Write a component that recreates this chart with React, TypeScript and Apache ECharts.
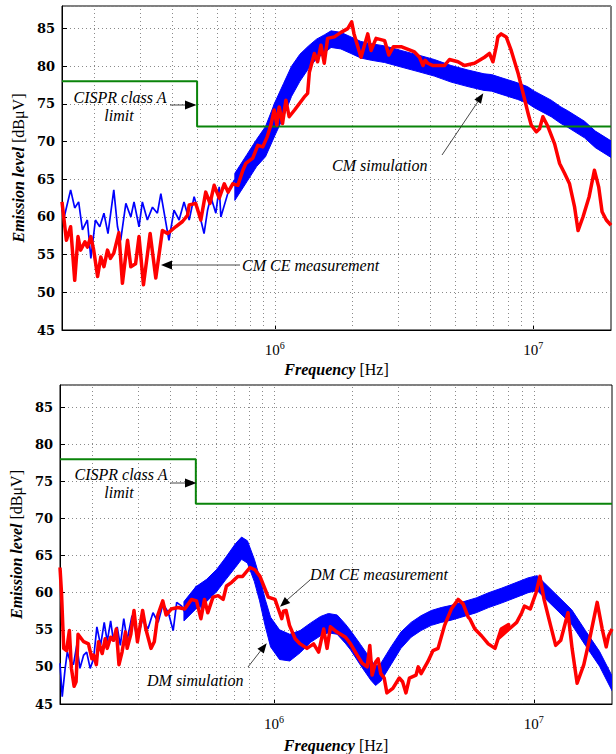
import React, { useEffect, useRef } from "react";
import * as echarts from "echarts";

// ---------- shared ----------
const gridFreqKHz = [200, 300, 400, 500, 600, 700, 800, 900, 1000, 2000, 3000, 4000, 5000, 6000, 7000, 8000, 9000, 10000];
const limitFreqKHz = [150, 500, 500, 20000];
const limitLevel = [78, 78, 72, 72];
const xTickLabels = ["10^6", "10^7"];

// ---------- top panel (CM) ----------
const cmMeasFreqKHz = [150, 156, 162, 168, 173, 177, 184, 188, 194, 199, 206, 212, 218, 225, 231, 238, 249, 257, 269, 277, 289, 298, 310, 329, 346, 367, 384, 413, 439, 459, 466, 494, 517, 540, 561, 582, 609, 637, 659, 687, 719, 752, 772, 821, 859, 898, 933, 965, 994, 1018, 1039, 1071, 1103, 1136, 1192, 1298, 1339, 1360, 1422, 1464, 1508, 1553, 1600, 1699, 1803, 1914, 1983, 2025, 2155, 2288, 2356, 2464, 2661, 2761, 2876, 3080, 3471, 3631, 3744, 3815, 3909, 4093, 4532, 4740, 5111, 5418, 5924, 6478, 6772, 6982, 7190, 7300, 7516, 7859, 8218, 8750, 9140, 9560, 9823, 10270, 10580, 10900, 11400, 12100, 12650, 13220, 13820, 14460, 14910, 15580, 16460, 17250, 17920, 18470, 19180, 20000];
const cmMeasLevel = [62.0, 56.9, 58.7, 51.6, 57.4, 55.6, 56.7, 56.0, 57.4, 55.6, 52.1, 54.7, 53.4, 55.6, 54.5, 55.2, 57.9, 51.2, 56.9, 53.4, 53.8, 57.4, 51.0, 57.8, 51.9, 58.2, 57.8, 58.7, 59.4, 60.2, 61.6, 61.8, 59.6, 63.3, 61.8, 64.2, 62.5, 64.4, 63.3, 64.4, 64.2, 66.2, 67.1, 67.8, 69.5, 69.3, 70.6, 72.2, 74.2, 72.2, 74.6, 72.4, 75.5, 73.3, 74.2, 75.9, 76.4, 79.2, 81.7, 80.6, 82.8, 80.4, 83.7, 83.9, 84.5, 85.0, 85.9, 84.3, 81.2, 84.3, 82.1, 83.7, 83.4, 81.5, 82.6, 82.6, 81.9, 81.2, 80.1, 80.8, 80.4, 80.1, 80.1, 80.9, 80.6, 80.1, 80.4, 81.2, 81.7, 80.6, 82.6, 83.9, 84.3, 83.9, 82.1, 79.0, 76.4, 73.7, 72.2, 71.3, 71.7, 73.3, 72.0, 69.7, 67.1, 65.8, 64.4, 61.3, 58.2, 60.0, 62.7, 66.2, 64.0, 60.7, 59.6, 58.9];

const cmSimFreqKHz = [150, 153, 162, 168, 174, 180, 188, 194, 202, 210, 218, 226, 238, 246, 253, 265, 277, 285, 298, 307, 321, 336, 351, 362, 373, 389, 407, 426, 445, 466, 487, 517, 532, 549, 565, 591, 609, 618, 657, 697, 739, 784, 832, 870, 923, 965, 1000, 1055, 1120, 1188, 1261, 1358];
const cmSimLevel = [61.0, 60.0, 63.6, 61.2, 62.0, 58.3, 59.6, 54.5, 59.6, 58.7, 60.5, 57.8, 63.6, 58.7, 56.9, 61.8, 60.0, 62.0, 58.7, 62.0, 59.6, 61.3, 60.5, 63.1, 60.5, 56.9, 60.9, 59.6, 62.0, 59.6, 62.7, 59.6, 57.8, 60.9, 62.7, 60.5, 64.0, 60.0, 63.1, 64.9, 64.0, 67.5, 68.4, 70.2, 69.3, 72.8, 75.1, 75.5, 78.1, 80.4, 79.9, 80.4];

const cmBandFreqKHz = [700, 780, 850, 920, 1000, 1080, 1160, 1250, 1350, 1450, 1560, 1650, 1800, 1970, 2150, 2360, 2660, 3080, 3580, 4140, 4810, 5590, 6450, 6900, 7500, 8700, 9500, 10100, 11740, 12800, 13600, 15800, 17400, 20000];
const cmBandLow = [62.2, 64.7, 66.7, 68.0, 70.8, 73.3, 76.0, 78.0, 79.7, 81.0, 81.8, 82.5, 82.3, 81.7, 81.1, 80.8, 80.5, 79.9, 79.3, 78.7, 77.9, 77.3, 76.8, 76.7, 76.3, 75.6, 75.1, 74.5, 73.3, 72.4, 71.9, 70.5, 69.2, 67.9];
const cmBandHigh = [65.8, 68.3, 70.3, 72.0, 75.2, 77.7, 80.0, 81.6, 82.7, 83.6, 84.2, 84.7, 84.5, 83.9, 83.3, 83.0, 82.7, 82.1, 81.5, 80.9, 80.1, 79.5, 79.0, 78.9, 78.5, 77.8, 77.3, 76.7, 75.5, 74.6, 74.1, 72.7, 71.4, 70.1];

// ---------- bottom panel (DM) ----------
const dmMeasFreqKHz = [150, 152, 155, 159, 163, 166, 170, 173, 176, 185, 193, 199, 202, 207, 211, 218, 224, 228, 235, 241, 247, 253, 260, 268, 272, 281, 289, 298, 312, 321, 336, 346, 357, 373, 384, 402, 427, 453, 481, 503, 523, 540, 556, 582, 609, 637, 656, 687, 725, 757, 808, 844, 883, 923, 950, 1009, 1039, 1071, 1087, 1113, 1147, 1206, 1261, 1339, 1420, 1485, 1553, 1600, 1649, 1747, 1885, 1971, 2089, 2183, 2283, 2337, 2386, 2464, 2515, 2576, 2655, 2719, 2866, 3035, 3125, 3220, 3320, 3521, 3590, 3682, 3909, 4093, 4280, 4535, 4812, 5112, 5345, 5590, 5670, 5930, 6289, 6680, 7090, 7490, 8000, 7290, 8593, 8985, 9200, 9690, 10200, 10560, 10950, 11600, 12140, 12700, 13540, 14040, 14680, 15580, 16500, 17540, 18340, 19000, 19400, 20000];
const dmMeasLevel = [63.4, 60.0, 52.5, 52.2, 54.9, 49.8, 47.4, 48.0, 54.4, 53.4, 53.1, 51.1, 51.6, 50.3, 53.4, 51.8, 53.8, 52.5, 54.0, 53.6, 55.1, 50.3, 52.0, 54.7, 52.5, 54.4, 57.6, 53.4, 57.6, 55.1, 52.5, 53.4, 57.0, 58.9, 57.0, 57.8, 58.0, 57.8, 59.1, 58.9, 56.5, 59.1, 57.3, 59.4, 59.6, 59.1, 60.9, 61.4, 62.2, 62.2, 63.4, 63.1, 62.2, 60.5, 59.4, 59.1, 57.8, 56.5, 57.5, 57.6, 55.6, 53.8, 53.1, 52.5, 53.1, 52.0, 55.1, 52.5, 55.4, 54.7, 54.0, 53.1, 51.6, 50.5, 50.0, 52.9, 48.9, 50.7, 51.1, 49.1, 48.5, 46.5, 47.1, 48.5, 48.0, 46.5, 48.5, 48.9, 50.0, 49.1, 50.7, 52.2, 52.5, 55.6, 57.8, 59.1, 58.5, 56.7, 56.5, 55.1, 54.2, 53.1, 52.5, 55.1, 55.7, 53.8, 56.0, 57.3, 58.2, 57.8, 60.0, 62.2, 59.1, 55.6, 52.9, 53.6, 57.3, 52.5, 47.8, 50.3, 54.2, 58.7, 55.1, 52.7, 54.2, 55.1];

const dmSimFreqKHz = [150, 153, 157, 160, 164, 169, 174, 179, 185, 190, 196, 202, 208, 215, 222, 228, 235, 241, 249, 256, 264, 272, 284, 298, 312, 327, 342, 358, 374, 392, 409, 422, 441, 461, 482, 503, 526, 550];
const dmSimLevel = [50.5, 46.0, 49.8, 52.0, 50.8, 50.3, 52.9, 49.8, 51.6, 52.0, 49.8, 51.1, 55.4, 52.9, 56.0, 53.4, 56.2, 53.4, 55.4, 52.9, 56.5, 53.6, 56.9, 53.8, 56.5, 55.1, 57.3, 56.0, 58.5, 57.3, 54.9, 58.7, 58.2, 56.9, 59.6, 60.9, 57.8, 61.4];

const dmBandFreqKHz = [450, 500, 550, 600, 650, 710, 750, 790, 840, 880, 925, 970, 1050, 1150, 1260, 1380, 1510, 1620, 1750, 1880, 1970, 2155, 2360, 2460, 2580, 2820, 3080, 3370, 3680, 4030, 4400, 4810, 5260, 6000, 6700, 7500, 8450, 9500, 10300, 11000, 12500, 14000, 15800, 17900, 20000];
const dmBandLow = [56.2, 57.8, 58.8, 60.1, 61.7, 63.4, 64.5, 64.0, 61.5, 58.9, 55.5, 52.7, 51.0, 50.8, 51.9, 53.3, 54.2, 54.6, 54.4, 53.2, 52.3, 50.2, 48.2, 47.5, 48.1, 50.3, 52.5, 54.0, 54.9, 55.6, 56.0, 56.3, 56.7, 57.3, 58.0, 58.6, 59.3, 60.0, 60.3, 59.3, 57.4, 55.7, 52.9, 50.1, 46.8];
const dmBandHigh = [58.8, 60.8, 61.8, 63.1, 64.7, 66.6, 67.5, 67.0, 64.5, 62.1, 59.1, 56.7, 55.0, 54.4, 54.9, 55.9, 56.8, 57.2, 57.0, 55.8, 54.9, 53.0, 51.0, 50.1, 50.5, 52.7, 54.7, 56.0, 56.9, 57.6, 58.0, 58.3, 58.7, 59.3, 60.0, 60.6, 61.3, 62.0, 62.3, 61.3, 59.4, 57.7, 54.9, 52.1, 48.8];

// ---------- styles ----------
const SERIF = '"Liberation Serif", "Times New Roman", serif';
const BLUE = "#0000ff";
const RED = "#ff0000";
const GREEN = "#0a840a";
const GRIDC = "#8a8a8a";

const pairs = (fs: number[], vs: number[]) => fs.map((f, i) => [f * 1000, vs[i]]);

function panelSeries(idx: number, meas: any, sim: any, band: any) {
  const ax = { xAxisIndex: idx, yAxisIndex: idx };
  const common = { type: "line", symbol: "none", showSymbol: false, silent: true, animation: false, ...ax };
  return [
    {
      ...common,
      name: "grid" + idx,
      data: [],
      z: 1,
      markLine: {
        silent: true,
        symbol: "none",
        animation: false,
        z: 1,
        label: { show: false },
        lineStyle: { color: GRIDC, type: [1, 3], width: 1 },
        data: gridFreqKHz.map((f) => ({ xAxis: f * 1000 })),
      },
    },
    {
      type: "custom",
      name: (idx === 0 ? "CM" : "DM") + " simulation band",
      ...ax,
      silent: true,
      animation: false,
      clip: true,
      z: 2,
      data: [[band.f[0] * 1000, band.lo[0]]],
      renderItem: (_params: any, api: any) => {
        const upper = band.f.map((f: number, i: number) => api.coord([f * 1000, band.hi[i]]));
        const lower = band.f.map((f: number, i: number) => api.coord([f * 1000, band.lo[i]])).reverse();
        return {
          type: "polygon",
          shape: { points: upper.concat(lower) },
          style: { fill: BLUE, stroke: BLUE, lineWidth: 1 },
        };
      },
    },
    {
      ...common,
      name: idx === 0 ? "CM simulation" : "DM simulation",
      data: pairs(sim.f, sim.v),
      lineStyle: { width: 1.7, color: BLUE },
      z: 3,
    },
    {
      ...common,
      name: "CISPR class A limit " + idx,
      data: pairs(limitFreqKHz, limitLevel),
      lineStyle: { width: 2, color: GREEN },
      z: 4,
    },
    {
      ...common,
      name: idx === 0 ? "CM CE measurement" : "DM CE measurement",
      data: pairs(meas.f, meas.v),
      lineStyle: { width: 3.5, color: RED, join: "round" },
      z: 5,
    },
  ];
}

function xAxisDef(idx: number) {
  return {
    type: "log",
    logBase: 10,
    gridIndex: idx,
    min: 150000,
    max: 20000000,
    axisLine: { show: true, lineStyle: { color: "#000", width: 1 } },
    axisTick: { show: true, inside: true, length: 5, lineStyle: { color: "#000" } },
    splitLine: { show: false },
    axisLabel: {
      showMinLabel: false,
      showMaxLabel: false,
      margin: 10,
      color: "#000",
      formatter: (v: number) => {
        const e = Math.round(Math.log10(v));
        const lbl = xTickLabels.find((t) => t === "10^" + e);
        return lbl ? "{b|10}{s|" + e + "}" : "";
      },
      rich: {
        b: { fontFamily: SERIF, fontSize: 15, color: "#000" },
        s: { fontFamily: SERIF, fontSize: 10, color: "#000", padding: [0, 0, 9, 0] },
      },
    },
    name: "{a|Frequency}{b| [Hz]}",
    nameLocation: "middle",
    nameGap: idx === 0 ? 31 : 33,
    nameTextStyle: {
      rich: {
        a: { fontFamily: SERIF, fontSize: 16, fontStyle: "italic", fontWeight: "bold", color: "#000" },
        b: { fontFamily: SERIF, fontSize: 16, color: "#000" },
      },
    },
  };
}

function yAxisDef(idx: number) {
  return {
    type: "value",
    gridIndex: idx,
    min: 45,
    max: 88,
    interval: 5,
    axisLine: { show: true, lineStyle: { color: "#000", width: 1 } },
    axisTick: { show: true, inside: true, length: 5, lineStyle: { color: "#000" } },
    splitLine: { show: true, lineStyle: { color: GRIDC, type: [1, 3], width: 1 } },
    axisLabel: {
      showMaxLabel: false,
      margin: 7,
      color: "#000",
      fontFamily: "DejaVu Serif",
      fontWeight: "bold",
      fontSize: 13,
    },
    name: "{a|Emission level}{b| [dBμV]}",
    nameLocation: "middle",
    nameGap: 32,
    nameRotate: 90,
    nameTextStyle: {
      rich: {
        a: { fontFamily: SERIF, fontSize: 16, fontStyle: "italic", fontWeight: "bold", color: "#000" },
        b: { fontFamily: SERIF, fontSize: 16, color: "#000" },
      },
    },
  };
}

function txt(text: string, x: number, y: number, align: string) {
  return {
    type: "text",
    x,
    y,
    z: 100,
    silent: true,
    style: { text, font: 'italic 16px "Liberation Serif"', fill: "#000", align, verticalAlign: "middle" },
  };
}
function seg(x1: number, y1: number, x2: number, y2: number) {
  return { type: "line", z: 100, silent: true, shape: { x1, y1, x2, y2 }, style: { stroke: "#333", lineWidth: 0.9 } };
}
function head(pts: number[][]) {
  return { type: "polygon", z: 100, silent: true, shape: { points: pts }, style: { fill: "#000" } };
}

const graphics = [
  // top panel
  txt("CISPR class A", 120, 97, "center"),
  txt("limit", 119, 115, "center"),
  seg(170, 105, 186, 105),
  head([[196.5, 105], [185, 100.5], [185, 109.5]]),
  txt("CM CE measurement", 242, 265, "left"),
  seg(171, 265, 240, 265),
  head([[161, 265], [172, 260.5], [172, 269.5]]),
  txt("CM simulation", 332, 165, "left"),
  seg(442, 155, 478, 101.5),
  head([[483.3, 93.3], [481.0, 103.8], [474.4, 99.4]]),
  // bottom panel
  txt("CISPR class A", 121, 474, "center"),
  txt("limit", 119, 492.5, "center"),
  seg(170, 483, 186, 483),
  head([[196.5, 483], [185, 478.5], [185, 487.5]]),
  txt("DM simulation", 147, 680, "left"),
  seg(248, 667, 262, 649),
  head([[266.7, 643.3], [263.8, 653.6], [257.4, 648.8]]),
  txt("DM CE measurement", 310, 574, "left"),
  seg(310, 580, 287, 600),
  head([[280, 606.7], [290.2, 603.1], [284.8, 597.1]]),
];

export default function App() {
  const ref = useRef<HTMLDivElement>(null);
  useEffect(() => {
    if (!ref.current) return;
    const chart = echarts.init(ref.current, undefined, { renderer: "svg" });
    const option: any = {
      animation: false,
      backgroundColor: "#fff",
      grid: [
        { left: 62, right: 5, top: 6, height: 324, show: true, borderColor: "#000", borderWidth: 1, backgroundColor: "#fff" },
        { left: 60, right: 4, top: 385, height: 321, show: true, borderColor: "#000", borderWidth: 1, backgroundColor: "#fff" },
      ],
      xAxis: [xAxisDef(0), xAxisDef(1)],
      yAxis: [yAxisDef(0), yAxisDef(1)],
      series: [
        ...panelSeries(
          0,
          { f: cmMeasFreqKHz, v: cmMeasLevel },
          { f: cmSimFreqKHz, v: cmSimLevel },
          { f: cmBandFreqKHz, lo: cmBandLow, hi: cmBandHigh }
        ),
        ...panelSeries(
          1,
          { f: dmMeasFreqKHz, v: dmMeasLevel },
          { f: dmSimFreqKHz, v: dmSimLevel },
          { f: dmBandFreqKHz, lo: dmBandLow, hi: dmBandHigh }
        ),
      ],
      graphic: graphics,
    };
    chart.setOption(option);
    return () => chart.dispose();
  }, []);
  return <div ref={ref} style={{ position: "absolute", left: 0, top: 0, width: 616, height: 754, background: "#fff" }} />;
}
